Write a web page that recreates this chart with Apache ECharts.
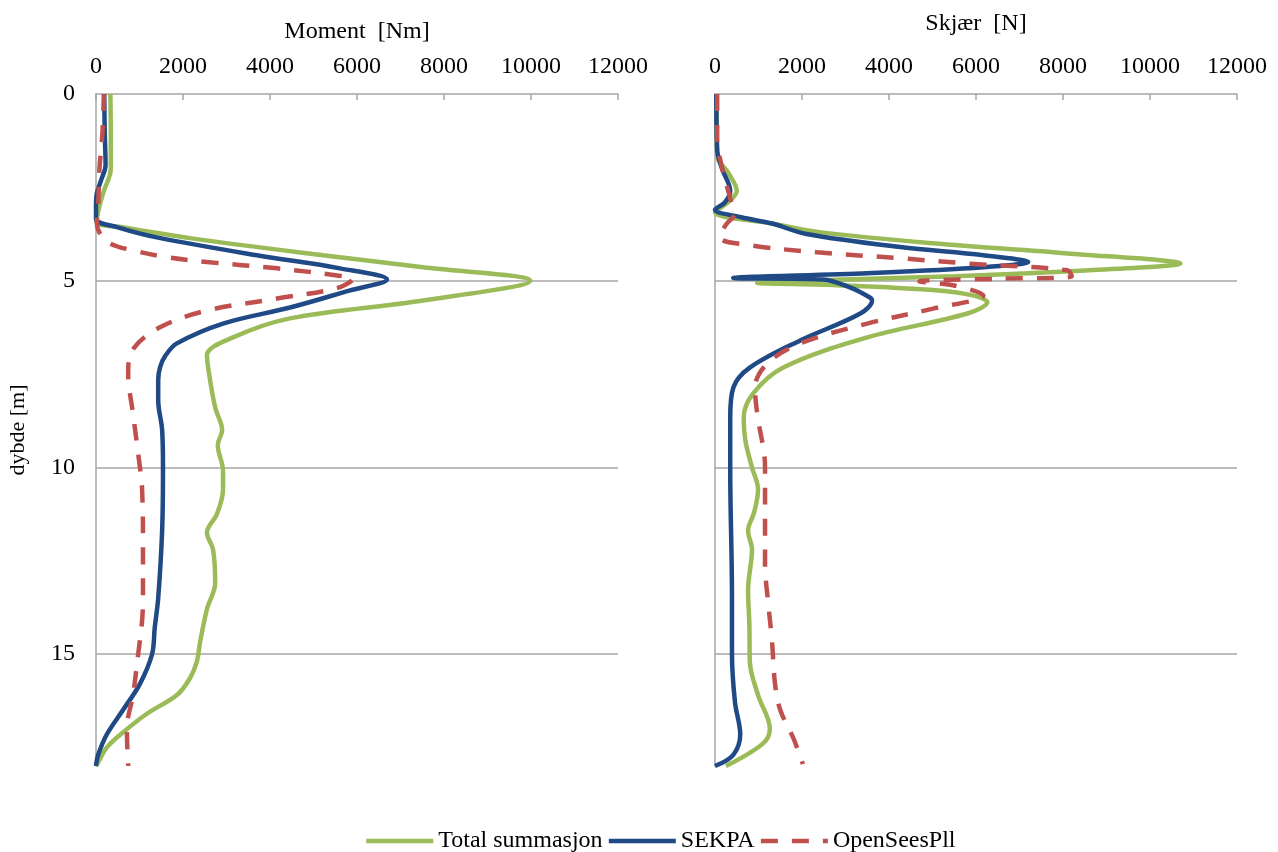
<!DOCTYPE html>
<html>
<head>
<meta charset="utf-8">
<script src="https://cdn.jsdelivr.net/npm/echarts@6/dist/echarts.min.js"></script>
<style>
  html, body { margin: 0; padding: 0; background: #fff; }
  #chart { width: 1278px; height: 852px; }
</style>
</head>
<body>
<div id="chart"></div>
<script>
// Depth axis ticks (m) and force axis ticks
const depthTicks = [0, 5, 10, 15];
const forceTicks = [0, 2000, 4000, 6000, 8000, 10000, 12000];
const seriesNames = ['Total summasjon', 'SEKPA', 'OpenSeesPll'];

// Moment [Nm] versus depth [m]
const momentTotalDepth = [0, 1, 2, 2.6, 3.0, 3.43, 3.57, 3.86, 4.32, 4.64, 5.0, 5.53, 6.01, 6.52, 7.0, 7.5, 8.4, 9.0, 9.4, 10.1, 10.6, 11.25, 11.75, 12.2, 13.1, 13.8, 14.7, 15.2, 15.65, 16.1, 16.6, 17.1, 17.5, 17.9, 18];
const momentTotal      = [330, 340, 340, 180, 80, 10, 620, 2160, 5220, 7520, 9980, 7520, 4460, 3150, 2550, 2600, 2740, 2900, 2800, 2920, 2920, 2780, 2550, 2690, 2740, 2550, 2390, 2320, 2160, 1860, 1170, 620, 250, 50, 0];

const momentSekpaDepth = [0, 1, 1.9, 2.3, 2.66, 3.0, 3.35, 3.57, 3.84, 4.32, 4.67, 4.97, 5.26, 5.72, 6.15, 6.68, 7.0, 7.33, 7.68, 8.2, 9.0, 10.0, 11.7, 13.5, 14.3, 15.0, 15.8, 16.5, 17.15, 17.7, 18];
const momentSekpa      = [190, 200, 220, 120, 20, 0, 0, 500, 1400, 3700, 5610, 6690, 5840, 4460, 2920, 1860, 1600, 1470, 1430, 1430, 1520, 1540, 1520, 1430, 1350, 1290, 1010, 620, 250, 50, 0];

const momentOpenDepth = [0, 1, 2, 3, 3.45, 3.73, 4.0, 4.19, 4.37, 4.5, 4.67, 4.86, 4.95, 5.2, 5.48, 5.8, 6.25, 6.87, 7.5, 8.56, 9.64, 10.6, 12.2, 13.5, 14.1, 15.0, 16.1, 17.0, 18];
const momentOpen      = [180, 150, 80, 50, 20, 90, 320, 850, 1630, 2550, 4160, 5540, 5910, 5540, 4160, 2550, 1470, 830, 740, 850, 970, 1060, 1080, 1080, 1060, 970, 850, 710, 740];

// Shear [N] versus depth [m]
const shearTotalDepth = [0, 1.0, 1.7, 2.1, 2.6, 2.9, 3.17, 3.47, 3.7, 4.0, 4.27, 4.54, 4.72, 4.88, 5.0, 5.06, 5.12, 5.25, 5.4, 5.58, 5.88, 6.52, 7.33, 8.03, 8.67, 9.3, 10.0, 10.6, 11.2, 11.7, 12.2, 13.3, 14.2, 15.2, 16.1, 17.0, 17.4, 18];
const shearTotal      = [40, 40, 60, 300, 500, 300, 0, 1310, 2400, 5010, 8100, 10700, 8600, 5500, 2000, 970, 2800, 5000, 5950, 6260, 5800, 3500, 1560, 870, 660, 700, 850, 990, 900, 760, 850, 760, 790, 800, 990, 1260, 1100, 250];

const shearSekpaDepth = [0, 1.5, 2.0, 2.6, 2.9, 3.1, 3.3, 3.47, 3.75, 4.1, 4.32, 4.5, 4.64, 4.8, 4.93, 4.97, 5.18, 5.45, 5.53, 5.88, 6.6, 7.33, 7.87, 8.67, 10, 13.5, 15, 16.3, 17.15, 17.7, 18];
const shearSekpa      = [30, 50, 160, 350, 230, 0, 600, 1310, 2100, 4260, 6170, 7200, 6170, 3500, 420, 2480, 3100, 3560, 3610, 3340, 1960, 800, 420, 350, 350, 390, 390, 460, 580, 420, 0];

const shearOpenDepth = [0, 1.23, 1.96, 2.58, 3.0, 3.2, 3.5, 3.84, 4.05, 4.24, 4.4, 4.54, 4.72, 4.88, 4.95, 5.02, 5.13, 5.4, 5.75, 6.15, 6.68, 7.22, 7.87, 8.56, 10, 11.25, 12.6, 13.6, 14.65, 15.8, 16.5, 17.25, 17.95];
const shearOpen      = [50, 50, 160, 300, 400, 460, 250, 110, 800, 2350, 4260, 5800, 8100, 8200, 6500, 4700, 5500, 6170, 5010, 3500, 1960, 1200, 920, 970, 1150, 1150, 1150, 1220, 1310, 1380, 1500, 1800, 2020];

const colors = { total: '#9BBB59', sekpa: '#1F4A85', open: '#C0504D' };
const FONT = 'Liberation Serif, Times New Roman, serif';
const GRID_LINE = '#a6a6a6';

function pairs(values, depths) {
  return values.map((v, i) => [v, depths[i]]);
}

function xAxisFor(gridIndex, name, nameGap) {
  return {
    type: 'value', gridIndex, position: 'top',
    min: forceTicks[0], max: forceTicks[forceTicks.length - 1],
    interval: forceTicks[1] - forceTicks[0],
    name, nameLocation: 'middle', nameGap,
    nameTextStyle: { fontFamily: FONT, fontSize: 24, color: '#000' },
    axisLine: { show: true, lineStyle: { color: GRID_LINE, width: 1.5 } },
    axisTick: { show: true, inside: true, length: 6, lineStyle: { color: GRID_LINE, width: 1.5 } },
    axisLabel: { fontFamily: FONT, fontSize: 24, color: '#000', margin: 15, formatter: v => String(v) },
    splitLine: { show: false }
  };
}

function yAxisFor(gridIndex, showLabels) {
  return {
    type: 'value', gridIndex, inverse: true,
    min: 0, max: 18, interval: depthTicks[1] - depthTicks[0],
    name: showLabels ? 'dybde [m]' : '', nameLocation: 'middle', nameGap: 67,
    nameTextStyle: { fontFamily: FONT, fontSize: 22, color: '#000' },
    axisLine: { show: true, lineStyle: { color: GRID_LINE, width: 1.5 } },
    axisTick: { show: false },
    axisLabel: {
      show: showLabels, fontFamily: FONT, fontSize: 24, color: '#000', margin: 21,
      showMaxLabel: false,
      formatter: v => depthTicks.includes(v) ? String(v) : ''
    },
    splitLine: { show: true, showMinLine: false, showMaxLine: false, lineStyle: { color: GRID_LINE, width: 1.5 } }
  };
}

function lineSeries(name, data, color, idx, dashed) {
  return {
    name, type: 'line', xAxisIndex: idx, yAxisIndex: idx,
    data, symbol: 'none', smooth: 0.35,
    lineStyle: dashed
      ? { color, width: 4.5, type: [17, 14] }
      : { color, width: 4.5 },
    itemStyle: { color },
    z: dashed ? 3 : 2
  };
}

const chart = echarts.init(document.getElementById('chart'), null, { renderer: 'canvas' });
chart.setOption({
  animation: false,
  backgroundColor: '#fff',
  grid: [
    { left: 96, top: 94, width: 522, height: 672 },
    { left: 715, top: 94, width: 522, height: 672 }
  ],
  xAxis: [xAxisFor(0, 'Moment  [Nm]', 50), xAxisFor(1, 'Skjær  [N]', 58)],
  yAxis: [yAxisFor(0, true), yAxisFor(1, false)],
  legend: {
    top: 824, left: 359,
    data: seriesNames,
    itemWidth: 67, itemHeight: 14, itemGap: 4,
    itemStyle: { opacity: 0 },
    lineStyle: { width: 4.5 },
    textStyle: { fontFamily: FONT, fontSize: 24, color: '#000' }
  },
  series: [
    lineSeries(seriesNames[0], pairs(momentTotal, momentTotalDepth), colors.total, 0, false),
    lineSeries(seriesNames[1], pairs(momentSekpa, momentSekpaDepth), colors.sekpa, 0, false),
    lineSeries(seriesNames[2], pairs(momentOpen, momentOpenDepth), colors.open, 0, true),
    lineSeries(seriesNames[0], pairs(shearTotal, shearTotalDepth), colors.total, 1, false),
    lineSeries(seriesNames[1], pairs(shearSekpa, shearSekpaDepth), colors.sekpa, 1, false),
    lineSeries(seriesNames[2], pairs(shearOpen, shearOpenDepth), colors.open, 1, true)
  ]
});
</script>
</body>
</html>
